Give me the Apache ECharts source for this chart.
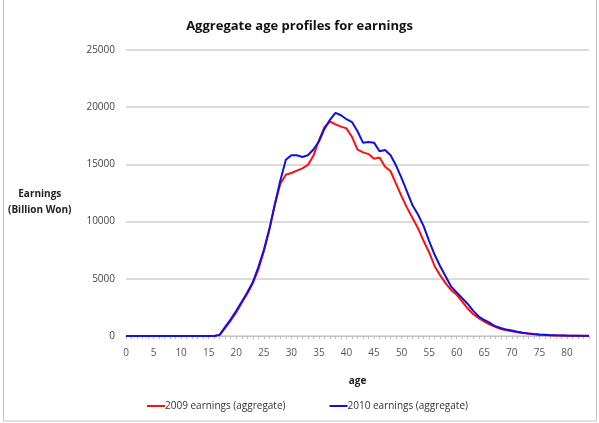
<!DOCTYPE html>
<html>
<head>
<meta charset="utf-8">
<script src="https://cdn.jsdelivr.net/npm/echarts@6/dist/echarts.min.js"></script>
<style>
  html, body { margin: 0; padding: 0; background: #fff; }
  #chart { width: 599px; height: 423px; }
</style>
</head>
<body>
<div id="chart"></div>
<script>
// ages 0..84
var ages = [];
for (var a = 0; a <= 84; a++) ages.push(String(a));

var earnings2009 = [
  0, 0, 0, 0, 0, 0, 0, 0, 0, 0,
  0, 0, 0, 0, 0, 0, 0, 100, 700, 1350,
  2050, 2900, 3700, 4600, 5800, 7400, 9300, 11500, 13300, 14100,
  14250, 14450, 14650, 14950, 15750, 17100, 18250, 18750, 18500, 18300,
  18150, 17400, 16300, 16050, 15900, 15500, 15600, 14800, 14400, 13300,
  12200, 11200, 10300, 9400, 8300, 7300, 6100, 5300, 4600, 4000,
  3600, 3000, 2400, 1900, 1550, 1250, 1000, 800, 600, 500,
  420, 330, 260, 200, 150, 110, 80, 60, 45, 35,
  25, 20, 15, 10, 10
];

var earnings2010 = [
  0, 0, 0, 0, 0, 0, 0, 0, 0, 0,
  0, 0, 0, 0, 0, 0, 0, 100, 800, 1450,
  2200, 3000, 3800, 4700, 6000, 7500, 9300, 11500, 13600, 15400,
  15800, 15800, 15650, 15800, 16300, 17000, 18100, 18900, 19500, 19300,
  18950, 18700, 17900, 16900, 16950, 16900, 16150, 16250, 15800, 14900,
  13800, 12600, 11400, 10600, 9600, 8300, 7100, 6100, 5200, 4300,
  3800, 3300, 2800, 2200, 1700, 1400, 1150, 850, 700, 560,
  480, 380, 290, 230, 170, 130, 100, 70, 55, 45,
  35, 30, 25, 20, 15
];

var yTicks = { min: 0, max: 25000, interval: 5000 };

var chart = echarts.init(document.getElementById('chart'));
chart.setOption({
  backgroundColor: '#fff',
  animation: false,
  textStyle: { fontFamily: 'Open Sans' },
  title: {
    text: 'Aggregate age profiles for earnings',
    left: 'center',
    top: 15,
    textStyle: { fontSize: 13, fontWeight: 'bold', color: '#111', fontFamily: 'Open Sans' }
  },
  graphic: [
    {
      type: 'text',
      left: 8,
      top: 186,
      style: {
        text: 'Earnings\n(Billion Won)',
        align: 'center',
        textAlign: 'center',
        font: 'bold 10px "Open Sans"',
        fill: '#222',
        lineHeight: 16,
        x: 40
      }
    },
    {
      type: 'rect',
      shape: { x: 3.5, y: -2, width: 593, height: 423 },
      style: { fill: 'none', stroke: '#c4c4c4', lineWidth: 1 },
      silent: true
    }
  ],
  legend: {
    bottom: 7,
    left: 142,
    itemWidth: 18,
    itemHeight: 2,
    itemGap: 44,
    icon: 'rect',
    textStyle: { fontSize: 10, color: '#333', padding: [0, 0, 0, -5] },
    data: ['2009 earnings (aggregate)', '2010 earnings (aggregate)']
  },
  grid: { left: 126, right: 10, top: 50, bottom: 87, containLabel: false },
  xAxis: {
    type: 'category',
    data: ages,
    boundaryGap: false,
    name: 'age',
    nameLocation: 'middle',
    nameGap: 40,
    nameTextStyle: { fontWeight: 'bold', fontSize: 10, color: '#222' },
    axisLine: { lineStyle: { color: '#bdbdbd', type: 'dotted', width: 1 } },
    axisTick: { show: true, interval: 0, length: 3, lineStyle: { color: '#bdbdbd' } },
    axisLabel: { interval: 4, fontSize: 10, color: '#555', margin: 12 },
    splitLine: { show: false }
  },
  yAxis: {
    type: 'value',
    min: yTicks.min,
    max: yTicks.max,
    interval: yTicks.interval,
    axisLine: { show: false },
    axisTick: { show: false },
    axisLabel: {
      fontSize: 10, color: '#444', margin: 11,
      formatter: function (v) { return String(v); }
    },
    splitLine: { lineStyle: { color: '#cfcfcf', width: 1.5 } }
  },
  series: [
    {
      name: '2009 earnings (aggregate)',
      type: 'line',
      data: earnings2009,
      showSymbol: false,
      symbol: 'none',
      lineStyle: { color: '#ff1010', width: 2 },
      itemStyle: { color: '#ff1010' }
    },
    {
      name: '2010 earnings (aggregate)',
      type: 'line',
      data: earnings2010,
      showSymbol: false,
      symbol: 'none',
      lineStyle: { color: '#1010e0', width: 2 },
      itemStyle: { color: '#1010e0' }
    }
  ]
});
</script>
</body>
</html>
